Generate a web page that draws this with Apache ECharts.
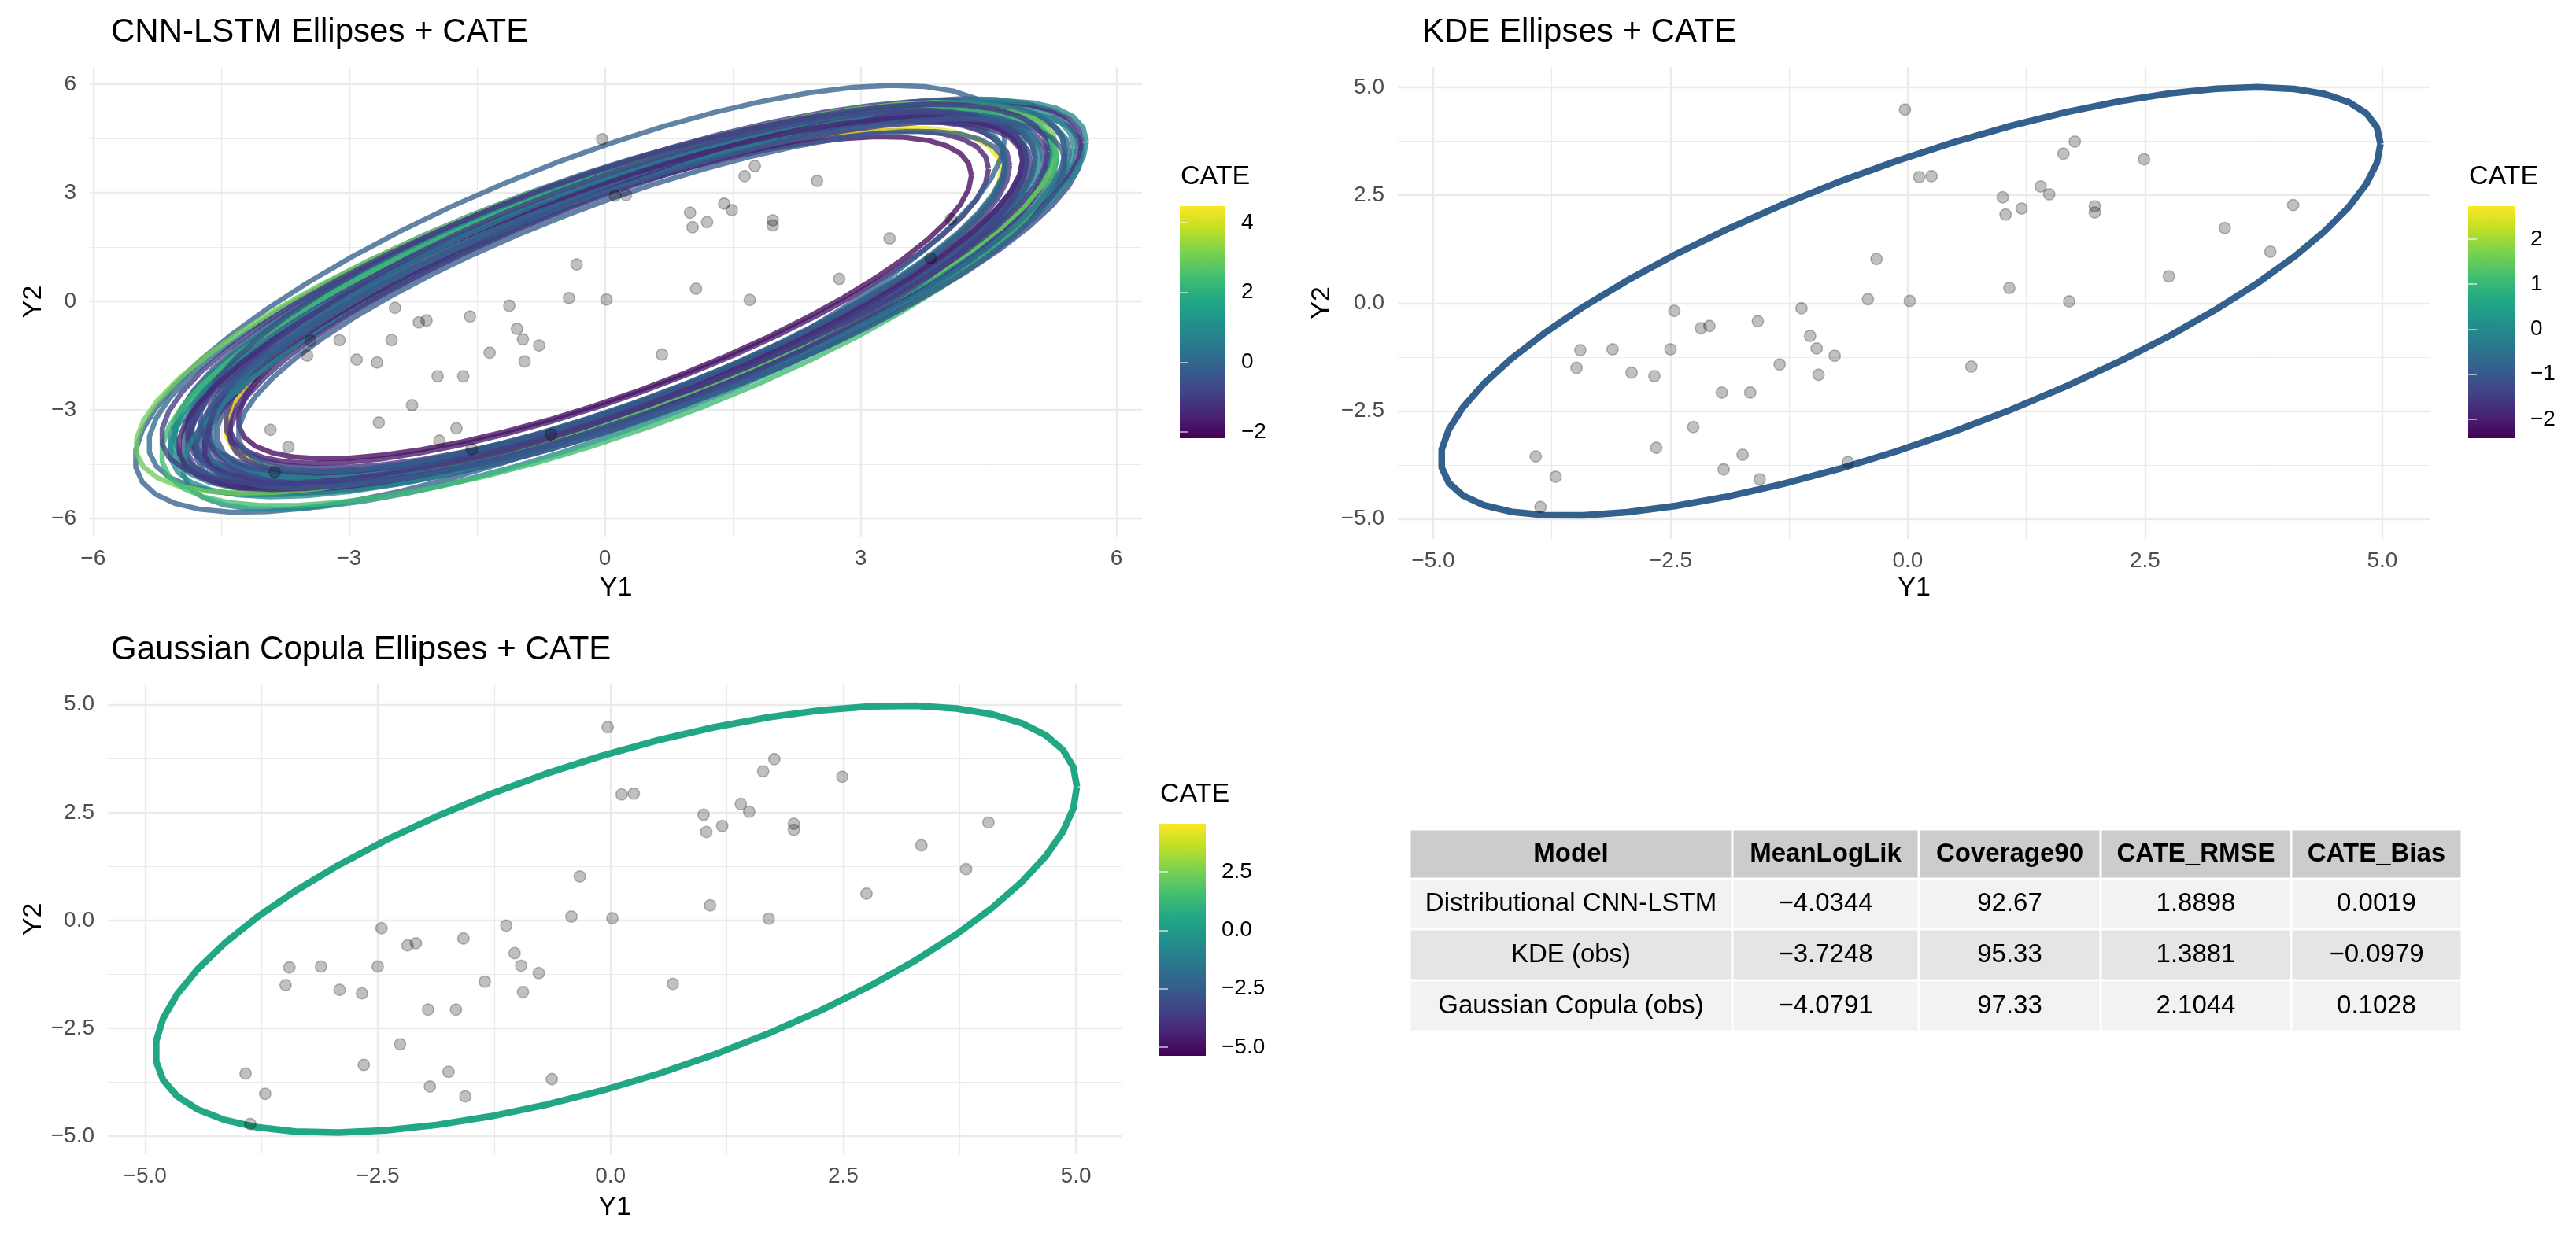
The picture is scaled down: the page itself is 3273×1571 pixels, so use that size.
<!DOCTYPE html>
<html>
<head>
<meta charset="utf-8">
<title>Ellipses + CATE</title>
<script src="https://cdn.jsdelivr.net/npm/echarts@6/dist/echarts.min.js"></script>
<style>
  html, body { margin: 0; padding: 0; background: #fff; }
  #main { width: 3273px; height: 1571px; }
</style>
</head>
<body>
<div id="main"></div>
<script>
// observed outcomes, the same 50 units are shown in every panel
var obsY1 = [-0.03, -0.33, -0.42, -2.46, -2.18, -2.09, -1.58, -1.12, -1.03, -0.96,
             -0.77, -1.35, -0.94, -3.45, -3.11, -2.50, -3.49, -2.91, -2.67, -1.96,
             -1.66, -2.26, -2.65, -1.74, -1.94, -1.56, -0.63, -3.92, -3.71, -3.87,
              0.12,  0.25,  1.76,  1.64,  2.49,  1.40,  1.49,  1.00,  1.03,  1.20,
              1.97,  1.97,  4.06,  3.34,  3.82,  2.75,  1.07,  1.70,  0.02,  0.67];
var obsY2 = [ 4.48,  1.02,  0.09, -0.18, -0.58, -0.53, -0.42, -0.12, -0.76, -1.05,
             -1.22, -1.42, -1.66, -1.09, -1.07, -1.07, -1.50, -1.61, -1.69, -2.07,
             -2.07, -2.87, -3.35, -3.51, -3.85, -4.08, -3.68, -3.55, -4.02, -4.72,
              2.92,  2.94,  3.74,  3.46,  3.33,  2.70,  2.52,  2.45,  2.05,  2.19,
              2.24,  2.10,  2.27,  1.74,  1.19,  0.62,  0.35,  0.04,  0.05, -1.47];

// CNN-LSTM predictive ellipses: centre, half extents, correlation, CATE
var cnnCx  = [0.00, 0.05, 0.10, 0.15, 0.00, 0.20, -0.10, 0.15, 0.25, 0.05, 0.10, 0.30, -0.05, 0.20, 0.15, 0.35, 0.00, 0.25,
              0.10, 0.40, -0.15, 0.30, 0.20, 0.45, -0.41, 0.35, -0.10, 0.05, 0.25, 0.10, -0.05, 0.40, 0.15, 0.30, 0.00, 0.20];
var cnnCy  = [0.10, 0.12, 0.05, 0.20, 0.15, 0.10, 0.20, 0.00, 0.15, 0.25, 0.10, 0.05, 0.10, 0.20, -0.05, 0.10, 0.05, 0.25,
              0.15, 0.00, 0.00, 0.20, 0.05, 0.15, 0.07, -0.10, 0.10, -0.15, 0.10, 0.30, -0.05, 0.25, 0.10, -0.05, 0.20, 0.00];
var cnnA   = [4.30, 4.45, 4.55, 4.60, 4.70, 4.75, 4.80, 4.85, 4.90, 4.90, 4.95, 5.00, 5.00, 5.05, 5.05, 5.10, 5.10, 5.15,
              5.15, 5.20, 5.20, 5.25, 5.30, 5.15, 5.10, 5.30, 5.40, 5.25, 4.65, 4.85, 4.95, 5.00, 4.80, 5.10, 5.20, 4.50];
var cnnB   = [4.45, 4.60, 4.75, 4.80, 4.90, 4.95, 5.00, 5.05, 5.05, 5.10, 5.10, 5.15, 5.20, 5.20, 5.25, 5.20, 5.30, 5.30,
              5.35, 5.30, 5.35, 5.40, 5.45, 5.35, 5.90, 5.65, 5.40, 5.50, 4.85, 5.00, 5.15, 5.25, 5.15, 5.10, 5.25, 4.70];
var cnnRho = [0.76, 0.77, 0.75, 0.74, 0.75, 0.76, 0.74, 0.75, 0.73, 0.74, 0.75, 0.76, 0.73, 0.74, 0.75, 0.77, 0.74, 0.73,
              0.75, 0.78, 0.74, 0.76, 0.77, 0.79, 0.75, 0.80, 0.76, 0.74, 0.78, 0.72, 0.77, 0.75, 0.73, 0.76, 0.75, 0.78];
var cnnCate = [-2.0, -1.7, 4.3, -1.2, -0.8, -0.3, 0.3, -1.0, -0.6, 0.8, -1.4, 0.0, -0.5, -0.6, -0.9, -0.2, 0.6, -1.1,
               1.6, -0.7, 0.1, -0.4, 1.0, -1.3, -0.1, 0.9, 3.0, 2.4, -1.2, -0.6, -1.5, 0.4, -0.9, -0.3, -1.0, -0.2];

// KDE and Gaussian copula ellipses
var kdeCentre = [0.03, 0.04];
var kdeHalf = [4.95, 4.96];
var kdeRho = 0.735;
var kdeCate = -0.85;
var copCentre = [0.06, 0.03];
var copHalf = [4.95, 4.95];
var copRho = 0.62;
var copCate = 0.55;

// colour bar limits and breaks
var cnnCateRange = [-2.18, 4.47];
var cnnCateTicks = [-2, 0, 2, 4];
var kdeCateRange = [-2.42, 2.73];
var kdeCateTicks = [-2, -1, 0, 1, 2];
var copCateRange = [-5.37, 4.55];
var copCateTicks = [-5, -2.5, 0, 2.5];

// axis breaks
var cnnTicks = [-6, -3, 0, 3, 6];
var kdeTicks = [-5, -2.5, 0, 2.5, 5];

// summary table
var tableHeader = ['Model', 'MeanLogLik', 'Coverage90', 'CATE_RMSE', 'CATE_Bias'];
var tableModel = ['Distributional CNN-LSTM', 'KDE (obs)', 'Gaussian Copula (obs)'];
var tableLogLik = [-4.0344, -3.7248, -4.0791];
var tableCoverage = [92.67, 95.33, 97.33];
var tableRmse = [1.8898, 1.3881, 2.1044];
var tableBias = [0.0019, -0.0979, 0.1028];

var FONT = '"Liberation Sans", Arial, Helvetica, sans-serif';
var viridis = ['#440154', '#482475', '#414487', '#355F8D', '#2A788E', '#21918C',
               '#22A884', '#44BF70', '#7AD151', '#BDDF26', '#FDE725'];

function cateColour(v, range) {
    var t = (v - range[0]) / (range[1] - range[0]);
    return echarts.color.lerp(Math.max(0, Math.min(1, t)), viridis);
}

function fmt(v, dec) {
    var s = Number(v).toFixed(dec);
    if (Number(s) === 0) s = (0).toFixed(dec);
    return s.replace('-', '\u2212');
}

function ellipsePath(cx, cy, a, b, rho) {
    var s = Math.sqrt(1 - rho * rho);
    var pts = [];
    for (var i = 0; i <= 51; i++) {
        var t = 2 * Math.PI * i / 51;
        pts.push([cx + a * Math.cos(t), cy + b * (rho * Math.cos(t) + s * Math.sin(t))]);
    }
    return pts;
}

function mainX(gridIndex, min, max, step, ticks, dec, gap) {
    return {
        type: 'value', gridIndex: gridIndex, min: min, max: max,
        minInterval: step, maxInterval: step,
        name: 'Y1', nameLocation: 'middle', nameGap: gap,
        nameTextStyle: { fontFamily: FONT, fontSize: 34, color: '#000' },
        axisLine: { show: false }, axisTick: { show: false },
        axisLabel: {
            customValues: ticks, margin: 14, color: '#4d4d4d', fontSize: 28, fontFamily: FONT,
            formatter: function (v) { return fmt(v, dec); }
        },
        splitLine: { show: true, showMinLine: false, showMaxLine: false, lineStyle: { color: '#ebebeb', width: 2.4 } },
        minorTick: { show: false, splitNumber: 2 },
        minorSplitLine: { show: true, lineStyle: { color: '#ebebeb', width: 1.2 } }
    };
}

function mainY(gridIndex, min, max, step, ticks, dec, gap) {
    var ax = mainX(gridIndex, min, max, step, ticks, dec, gap);
    ax.name = 'Y2';
    ax.axisLabel.margin = 17;
    return ax;
}

function barAxis(gridIndex, range, ticks, dec, side) {
    return {
        type: 'value', gridIndex: gridIndex, min: range[0], max: range[1], position: side, z: 10,
        axisLine: { show: false }, splitLine: { show: false },
        axisTick: { show: true, inside: true, length: 11, customValues: ticks,
                    lineStyle: { color: 'rgba(255,255,255,0.75)', width: 1.5 } },
        axisLabel: {
            show: side === 'right', customValues: ticks, margin: 20, color: '#000', fontSize: 28, fontFamily: FONT,
            formatter: function (v) { return fmt(v, dec); }
        }
    };
}

function hiddenX(gridIndex) {
    return { type: 'value', gridIndex: gridIndex, min: 0, max: 1, show: false };
}

var series = [];
for (var i = 0; i < cnnCx.length; i++) {
    series.push({
        type: 'line', xAxisIndex: 0, yAxisIndex: 0, silent: true, showSymbol: false, symbol: 'none',
        data: ellipsePath(cnnCx[i], cnnCy[i], cnnA[i], cnnB[i], cnnRho[i]),
        lineStyle: { color: cateColour(cnnCate[i], cnnCateRange), width: 6.5, opacity: 0.78 },
        z: 2
    });
}
series.push({
    type: 'line', xAxisIndex: 1, yAxisIndex: 1, silent: true, showSymbol: false, symbol: 'none',
    data: ellipsePath(kdeCentre[0], kdeCentre[1], kdeHalf[0], kdeHalf[1], kdeRho),
    lineStyle: { color: cateColour(kdeCate, kdeCateRange), width: 8.5 }, z: 2
});
series.push({
    type: 'line', xAxisIndex: 2, yAxisIndex: 2, silent: true, showSymbol: false, symbol: 'none',
    data: ellipsePath(copCentre[0], copCentre[1], copHalf[0], copHalf[1], copRho),
    lineStyle: { color: cateColour(copCate, copCateRange), width: 8.5 }, z: 2
});
var obsPoints = obsY1.map(function (v, k) { return [v, obsY2[k]]; });
for (var p = 0; p < 3; p++) {
    series.push({
        type: 'scatter', xAxisIndex: p, yAxisIndex: p, silent: true, z: 4,
        symbolSize: 14.5, data: obsPoints,
        itemStyle: { color: 'rgba(0,0,0,0.31)', borderColor: 'rgba(0,0,0,0.31)', borderWidth: 1.6 }
    });
}

// titles, colour bars and table
var graphics = [];
function addText(txt, x, y, size, opts) {
    opts = opts || {};
    graphics.push({
        type: 'text', x: x, y: y, z: 20,
        style: {
            text: txt, fill: opts.fill || '#000',
            font: (opts.bold ? 'bold ' : '') + size + 'px ' + FONT,
            align: opts.align || 'left', textAlign: opts.align || 'left',
            verticalAlign: 'middle', textVerticalAlign: 'middle'
        }
    });
}
addText('CNN-LSTM Ellipses + CATE', 141, 41, 42);
addText('KDE Ellipses + CATE', 1807, 41, 42);
addText('Gaussian Copula Ellipses + CATE', 141, 826, 42);
addText('CATE', 1500, 225, 34);
addText('CATE', 3137, 225, 34);
addText('CATE', 1474, 1010, 34);

var barStops = viridis.map(function (c, k) { return { offset: k / (viridis.length - 1), color: c }; });
var bars = [[1499, 262, 58, 295], [3136, 262, 59, 295], [1473, 1047, 59, 295]];
bars.forEach(function (b) {
    graphics.push({
        type: 'rect', z: 1, shape: { x: b[0], y: b[1], width: b[2], height: b[3] },
        style: { fill: new echarts.graphic.LinearGradient(0, 1, 0, 0, barStops) }
    });
});

var tableCols = [1791, 2201, 2438, 2669, 2911, 3128];
var tableRows = [1054, 1117, 1181, 1246, 1311];
var rowFills = ['#cccccc', '#f2f2f2', '#e5e5e5', '#f2f2f2'];
var tableCells = [tableHeader];
for (var r = 0; r < tableModel.length; r++) {
    tableCells.push([
        tableModel[r], fmt(tableLogLik[r], 4), fmt(tableCoverage[r], 2),
        fmt(tableRmse[r], 4), fmt(tableBias[r], 4)
    ]);
}
for (var r = 0; r < tableCells.length; r++) {
    for (var c = 0; c < 5; c++) {
        var x0 = tableCols[c], x1 = tableCols[c + 1], y0 = tableRows[r], y1 = tableRows[r + 1];
        graphics.push({
            type: 'rect', z: 1,
            shape: { x: x0 + 1.5, y: y0 + 1.5, width: x1 - x0 - 3, height: y1 - y0 - 3 },
            style: { fill: rowFills[r] }
        });
        addText(tableCells[r][c], (x0 + x1) / 2, (y0 + y1) / 2, 33, { align: 'center', bold: r === 0 });
    }
}

var option = {
    backgroundColor: '#ffffff',
    animation: false,
    textStyle: { fontFamily: FONT },
    grid: [
        { left: 114, top: 85, width: 1337, height: 597 },
        { left: 1776, top: 85, width: 1312, height: 600 },
        { left: 137, top: 870, width: 1288, height: 597 },
        { left: 1499, top: 262, width: 58, height: 295 },
        { left: 3136, top: 262, width: 59, height: 295 },
        { left: 1473, top: 1047, width: 59, height: 295 }
    ],
    xAxis: [
        mainX(0, -6.04, 6.30, 3, cnnTicks, 0, 49),
        mainX(1, -5.373, 5.506, 2.5, kdeTicks, 1, 46),
        mainX(2, -5.40, 5.49, 2.5, kdeTicks, 1, 51),
        hiddenX(3), hiddenX(4), hiddenX(5)
    ],
    yAxis: [
        mainY(0, -6.50, 6.48, 3, cnnTicks, 0, 54),
        mainY(1, -5.46, 5.47, 2.5, kdeTicks, 1, 79),
        mainY(2, -5.42, 5.47, 2.5, kdeTicks, 1, 77),
        barAxis(3, cnnCateRange, cnnCateTicks, 0, 'right'),
        barAxis(4, kdeCateRange, kdeCateTicks, 0, 'right'),
        barAxis(5, copCateRange, copCateTicks, 1, 'right'),
        barAxis(3, cnnCateRange, cnnCateTicks, 0, 'left'),
        barAxis(4, kdeCateRange, kdeCateTicks, 0, 'left'),
        barAxis(5, copCateRange, copCateTicks, 1, 'left')
    ],
    graphic: { elements: graphics },
    series: series
};

var chart = echarts.init(document.getElementById('main'));
chart.setOption(option);
</script>
</body>
</html>
